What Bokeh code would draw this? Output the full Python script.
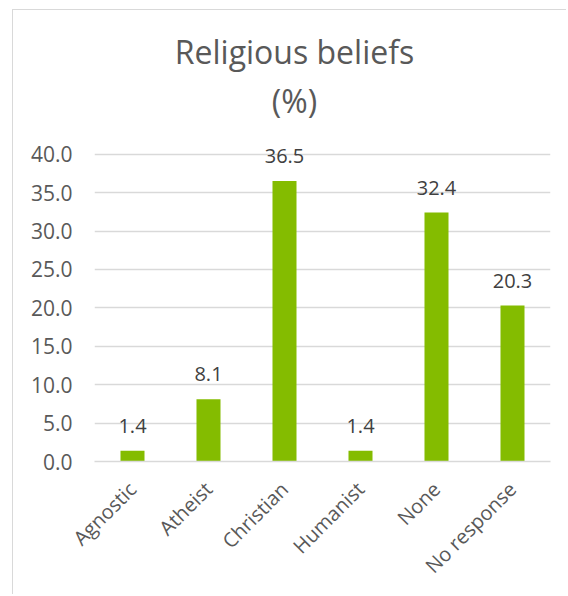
import math
from bokeh.plotting import figure
from bokeh.models import ColumnDataSource, Range1d, LabelSet, Label, FixedTicker, CustomJSTickFormatter
from bokeh.core.properties import value
from bokeh.embed import file_html
from bokeh.resources import INLINE

categories = ["Agnostic", "Atheist", "Christian", "Humanist", "None", "No response"]
values = [1.4, 8.1, 36.5, 1.4, 32.4, 20.3]
y_ticks = [0, 5, 10, 15, 20, 25, 30, 35, 40]
title_lines = ["Religious beliefs", "(%)"]

FONT = "Open Sans"
source = ColumnDataSource(dict(cat=categories, val=values,
                               lab=["%.1f" % v for v in values]))

# frame extends up to the title area so that the title labels are not clipped
p = figure(x_range=categories, y_range=Range1d(0, 57.4),
           width=554, height=585, output_backend="svg", toolbar_location=None,
           min_border_left=81, min_border_right=17, min_border_top=10, min_border_bottom=134)
p.styles = {"margin-left": "12px", "margin-top": "9px",
            "border-left": "1px solid #d9d9d9", "border-top": "1px solid #d9d9d9"}
p.title = None
p.outline_line_color = None
p.background_fill_color = "white"
p.border_fill_color = "white"

p.vbar(x="cat", top="val", width=0.316, source=source, fill_color="#84BC00", line_color=None)

labels = LabelSet(x="cat", y="val", text="lab", source=source, y_offset=18,
                  text_align="center", text_baseline="alphabetic",
                  text_font=value(FONT), text_font_size="20px", text_color="#404040")
p.add_layout(labels)

# screen units are relative to the frame's bottom-left corner
p.add_layout(Label(x=200, y=410, x_units="screen", y_units="screen",
                   text=title_lines[0], text_align="center", text_baseline="alphabetic",
                   text_font=FONT, text_font_size="32px", text_color="#595959"))
p.add_layout(Label(x=200, y=361, x_units="screen", y_units="screen",
                   text=title_lines[1], text_align="center", text_baseline="alphabetic",
                   text_font=FONT, text_font_size="32px", text_color="#595959"))

p.xgrid.grid_line_color = None
p.ygrid.grid_line_color = "#d9d9d9"
p.ygrid.grid_line_width = 1.3

p.yaxis.ticker = FixedTicker(ticks=y_ticks)
p.yaxis.formatter = CustomJSTickFormatter(code="return tick.toFixed(1);")
p.yaxis.axis_line_color = None
p.yaxis.major_tick_line_color = None
p.yaxis.major_tick_out = 0
p.yaxis.major_tick_in = 0
p.yaxis.minor_tick_line_color = None
p.yaxis.major_label_standoff = 22
p.yaxis.major_label_text_font = FONT
p.yaxis.major_label_text_font_size = "21px"
p.yaxis.major_label_text_color = "#595959"

p.xaxis.axis_line_color = "#d9d9d9"
p.xaxis.axis_line_width = 1.3
p.xaxis.major_tick_line_color = None
p.xaxis.minor_tick_line_color = None
p.xaxis.major_tick_out = 0
p.xaxis.major_tick_in = 0
p.xaxis.major_label_orientation = math.pi / 4
p.xaxis.major_label_standoff = 24
p.xaxis.major_label_text_font = FONT
p.xaxis.major_label_text_font_size = "20px"
p.xaxis.major_label_text_color = "#595959"

open("out.html", "w").write(file_html(p, INLINE))
